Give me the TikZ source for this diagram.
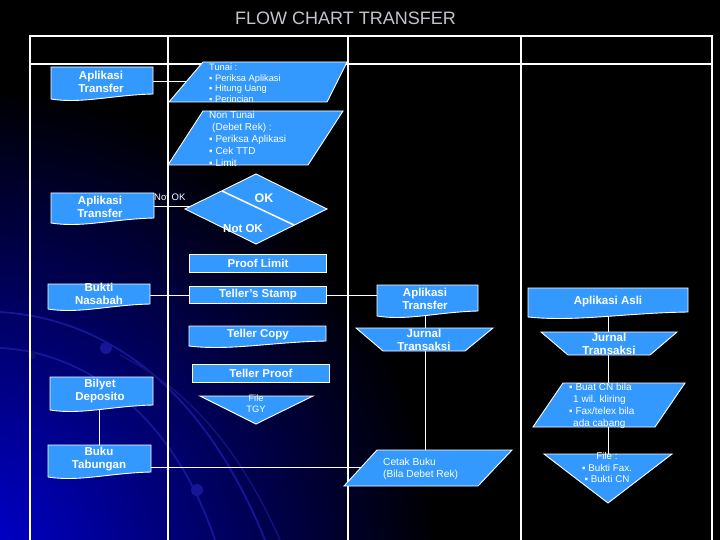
\documentclass[tikz,border=0pt]{standalone}
\usepackage{fontspec}
\setmainfont{Liberation Sans}
\usetikzlibrary{calc}
\pgfdeclarelayer{deep}
\pgfdeclarelayer{shapes}
\pgfsetlayers{deep,shapes,main}
\definecolor{boxblue}{RGB}{51,153,255}
\definecolor{titlegray}{RGB}{196,196,206}
\definecolor{swirl}{RGB}{22,22,150}
\definecolor{deepblue}{RGB}{0,0,215}
\tikzset{
  shp/.style={fill=boxblue, draw=white, line width=0.9pt, line join=miter},
  tline/.style={draw=white, line width=1.4pt},
  conn/.style={draw=white, line width=1pt},
  btxt/.style={text=white, font=\fontsize{11.5}{13}\selectfont\bfseries, align=center, inner sep=0pt},
  ntxt/.style={text=white, font=\fontsize{9.5}{11.5}\selectfont, align=center, inner sep=0pt},
  stxt/.style={text=white, font=\fontsize{9.3}{10.7}\selectfont, align=left, inner sep=0pt, anchor=north west},
  mtxt/.style={text=white, font=\fontsize{10}{11.8}\selectfont, align=left, inner sep=0pt, anchor=north west},
  ttxt/.style={text=titlegray, font=\fontsize{18}{20}\selectfont, inner sep=0pt}
}
\newcommand{\mydoc}[4]{\path[shp] (#1,#2) -- (#3,#2) -- (#3,{#4-5}) .. controls ({#1+0.6*(#3-#1)},{#4-4}) and ({#1+0.3*(#3-#1)},{#4+5}) .. (#1,#4) -- cycle;}
\begin{document}
\begin{tikzpicture}[x=1pt,y=-1pt]
\useasboundingbox (0,0) rectangle (720,540);

% ---------- text nodes ----------
\node[ttxt] (title) at (345.5,18) {FLOW CHART TRANSFER};

\node[btxt] (at1) at (101,81.5) {Aplikasi\\Transfer};
\node[stxt] (tunai) at (209,63.5) {Tunai :\\▪ Periksa Aplikasi\\▪ Hitung Uang\\▪ Perincian};
\node[mtxt] (nontunai) at (209,111.5) {Non Tunai\\\hspace*{3pt}(Debet Rek) :\\▪ Periksa Aplikasi\\▪ Cek TTD\\▪ Limit};

\node[btxt] (at2) at (100,207) {Aplikasi\\Transfer};
\node[ntxt, anchor=west] (notoklbl) at (154,197) {Not OK};
\node[btxt, font=\fontsize{12.5}{14}\selectfont\bfseries] (ok) at (264,198) {OK};
\node[btxt] (notok) at (243,229) {Not OK};

\node[btxt] (proof) at (258,263) {Proof Limit};
\node[btxt] (stamp) at (258,295) {Teller's Stamp};
\node[btxt] (tcopy) at (258,335) {Teller Copy};
\node[btxt] (bn) at (99,293.5) {Bukti\\Nasabah};

\node[btxt] (at3) at (425,298.5) {Aplikasi\\Transfer};
\node[btxt] (jt3) at (424,339.5) {Jurnal\\Transaksi};
\node[btxt] (aa) at (608,302) {Aplikasi Asli};
\node[btxt] (jt4) at (609,344) {Jurnal\\Transaksi};

\node[btxt] (tproof) at (261,373) {Teller Proof};
\node[ntxt, font=\fontsize{9.3}{11}\selectfont] (tgy) at (256,403.5) {File\\TGY};
\node[btxt] (bd) at (100,391.5) {Bilyet\\Deposito};
\node[btxt] (bt) at (99,459.5) {Buku\\Tabungan};

\node[mtxt, font=\fontsize{10}{12}\selectfont] (cn) at (569,383.5) {▪ Buat CN bila\\\hspace*{4pt}1 wil. kliring\\▪ Fax/telex bila\\\hspace*{4pt}ada cabang};
\node[ntxt, font=\fontsize{9.8}{11.8}\selectfont] (file4) at (607,467.5) {File :\\▪ Bukti Fax.\\▪ Bukti CN};
\node[ntxt, font=\fontsize{10.2}{12}\selectfont, align=left, anchor=west] (cetak) at (383,469) {Cetak Buku\\(Bila Debet Rek)};

\coordinate (dia) at (256,209);
\coordinate (btR) at (140,467);

% ---------- background, table, connectors ----------
\begin{pgfonlayer}{deep}
  \fill[black] (0,0) rectangle (720,540);
  \begin{scope}
    \clip (0,0) rectangle (720,540);
    \shade[inner color=deepblue, outer color=black] (-40,565) circle (480pt);
    \draw[swirl, line width=1.8pt] (0,312) .. controls (100,318) and (200,380) .. (265,540);
    \draw[swirl, line width=1.8pt] (0,348) .. controls (90,352) and (175,420) .. (215,540);
    \draw[swirl!80!black, line width=1.5pt] (120,355) .. controls (190,390) and (240,450) .. (280,540);
    \fill[swirl] (106,348) circle (6pt);
    \fill[swirl] (197,490) circle (6pt);
    \fill[swirl!70!black] (32,355) circle (4pt);
  \end{scope}
  % table
  \draw[tline] (30,545) -- (30,36) -- (712,36) -- (712,545);
  \draw[tline] (30,64) -- (712,64);
  \draw[tline] (168,36) -- (168,545);
  \draw[tline] (348,36) -- (348,545);
  \draw[tline] (521,36) -- (521,545);
  % connectors
  \draw[conn] (at1) -- (at1 -| tunai);
  \draw[conn] (at2) -- (at2 -| dia);
  \draw[conn] (stamp -| bn) -- (stamp -| at3);
  \draw[conn] (at3) -- (at3 |- cetak);
  \draw[conn] (aa) -- (aa |- file4);
  \draw[conn] (bt |- bd) -- (bt);
  \draw[conn] (btR) -- (btR -| cetak);
\end{pgfonlayer}

% ---------- shapes ----------
\begin{pgfonlayer}{shapes}
  \mydoc{51}{67}{153}{99}
  \path[shp] (169,102) -- (203,62) -- (347,62) -- (327,102) -- cycle;
  \path[shp] (168,165) -- (203,111) -- (343,111) -- (308,165) -- cycle;
  \mydoc{51}{193}{154}{223}
  \path[shp] (185,209) -- (256,174) -- (327,209) -- (256,244) -- cycle;
  \draw[white, line width=1.5pt] (222,191) -- (294,225);
  \path[shp] (189,254) rectangle (326,272);
  \path[shp] (189,286) rectangle (326,303);
  \mydoc{189}{326}{326}{346}
  \mydoc{48}{284}{150}{309}
  \mydoc{377}{285}{478}{316}
  \path[shp] (356,328) -- (493,328) -- (465,351) -- (383,351) -- cycle;
  \mydoc{528}{288}{688}{317}
  \path[shp] (541,332) -- (677,332) -- (650,355) -- (568,355) -- cycle;
  \path[shp] (192,364) rectangle (329,382);
  \path[shp] (200,396) -- (313,396) -- (256,424) -- cycle;
  \mydoc{50}{377}{153}{410}
  \mydoc{48}{445}{151}{477}
  \path[shp] (533,427) -- (563,383) -- (685,383) -- (655,427) -- cycle;
  \path[shp] (544,454) -- (672,454) -- (608,503) -- cycle;
  \path[shp] (344,486) -- (377,450) -- (512,450) -- (478,486) -- cycle;
\end{pgfonlayer}
\end{tikzpicture}
\end{document}
